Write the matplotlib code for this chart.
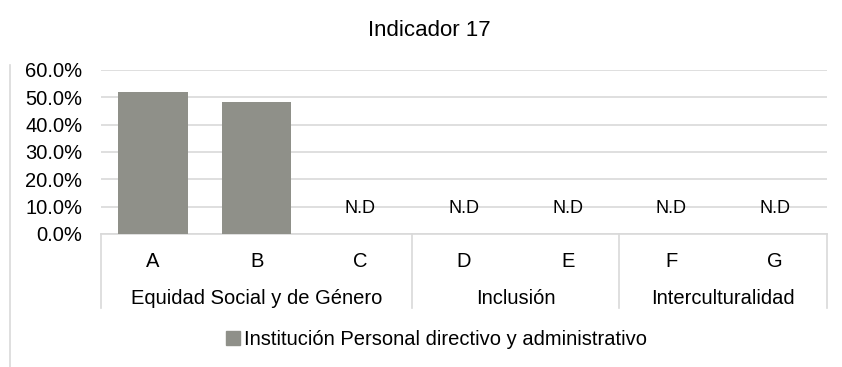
import matplotlib
matplotlib.use("Agg")
import matplotlib.pyplot as plt
import matplotlib.transforms as mtransforms
from matplotlib.lines import Line2D
import numpy as np

plt.rcParams["font.family"] = ["Liberation Sans", "DejaVu Sans"]

title = "Indicador 17"
series_name = "Institución Personal directivo y administrativo"
categories = ["A", "B", "C", "D", "E", "F", "G"]
groups = ["Equidad Social y de Género", "Inclusión", "Interculturalidad"]
group_sizes = [3, 2, 2]
values = [51.8, 48.2, np.nan, np.nan, np.nan, np.nan, np.nan]  # percent, nan = no data
missing_label = "N.D"
yticks = [0, 10, 20, 30, 40, 50, 60]

bar_color = "#8f9089"
grid_color = "#d9d9d9"
fs = 14.5

fig = plt.figure(figsize=(8.42, 3.67), dpi=100)
ax = fig.add_axes([0.12, 0.3624, 0.862, 0.4469])

x = np.arange(len(categories))
heights = np.nan_to_num(np.array(values, dtype=float))
ax.bar(x, heights, width=0.67, color=bar_color, zorder=3)

for xi, v in zip(x, values):
    if np.isnan(v):
        ax.annotate(missing_label, (xi, 0), xytext=(0, 18.5), textcoords="offset points",
                    ha="center", va="center", fontsize=13, zorder=4)

ax.set_xlim(-0.5, len(categories) - 0.5)
ax.set_ylim(0, 60)
ax.set_yticks(yticks)
ax.set_yticklabels([f"{t:.1f}%" for t in yticks], fontsize=fs)
ax.yaxis.grid(True, color=grid_color, linewidth=1.2, zorder=0)
ax.set_xticks([])
ax.tick_params(axis="y", length=0, pad=13.5)
for side in ("top", "right", "left"):
    ax.spines[side].set_visible(False)
ax.spines["bottom"].set_color(grid_color)
ax.spines["bottom"].set_linewidth(1.2)

# two-level category axis drawn below the plot
trans = mtransforms.blended_transform_factory(ax.transData, ax.transAxes)
box_bottom = -0.451
edges = np.concatenate([[0], np.cumsum(group_sizes)]) - 0.5
for e in edges:
    ax.add_line(Line2D([e, e], [0, box_bottom], transform=trans, color=grid_color,
                       linewidth=1.2, clip_on=False))
for xi, cat in zip(x, categories):
    ax.text(xi, -0.165, cat, transform=trans, ha="center", va="center", fontsize=fs)
for g, lo, hi in zip(groups, edges[:-1], edges[1:]):
    ax.text((lo + hi) / 2, -0.392, g, transform=trans, ha="center", va="center", fontsize=fs)

fig.text(0.51, 0.918, title, ha="center", va="center", fontsize=16)

handle = plt.Rectangle((0, 0), 1, 1, color=bar_color)
fig.legend([handle], [series_name], loc="center", bbox_to_anchor=(0.518, 0.074),
           frameon=False, fontsize=fs, handlelength=0.7, handleheight=0.7,
           handletextpad=0.2)

fig.add_artist(Line2D([0.012, 0.012], [0.0, 0.823], color=grid_color, linewidth=1.2))

fig.savefig("out.png", dpi=100)
